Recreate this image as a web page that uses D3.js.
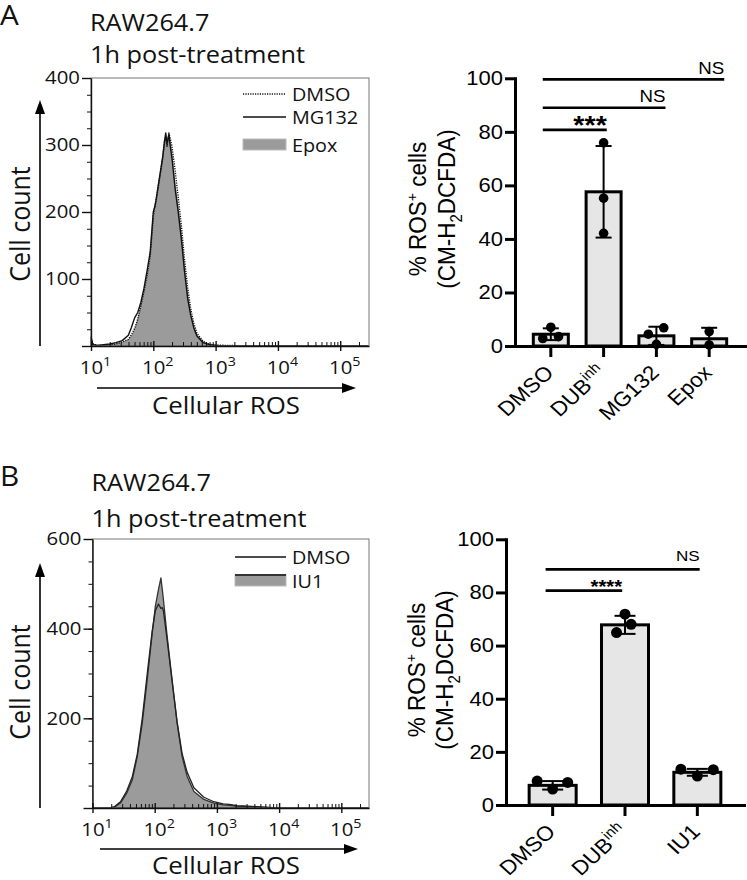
<!DOCTYPE html>
<html><head><meta charset="utf-8">
<script src="https://cdn.jsdelivr.net/npm/d3@7"></script>
<style>body{margin:0;background:#fff}svg{display:block}</style>
</head><body>
<svg id="c" width="747" height="880"></svg>
<script>
// ---------------- DATA ----------------
// Histogram A (x as log10 of fluorescence, y as cell count)
const histA_logX  = [1.0,1.03,1.1,1.2,1.3,1.4,1.5,1.6,1.65,1.7,1.75,1.8,1.85,1.9,1.95,2.0,2.03,2.05,2.1,2.15,2.18,2.2,2.22,2.25,2.27,2.3,2.35,2.4,2.45,2.5,2.55,2.6,2.65,2.7,2.8,2.9,3.0,3.2,3.5,4.0,5.0,5.45];
const histA_Epox  = [12,3,1,1,2,3,5,9,15,24,38,57,78,100,128,185,205,215,245,275,300,312,300,317,305,285,240,205,165,115,75,48,28,16,6,2,1,0.5,0,0,0,0];
const histA_DMSO  = [10,3,1,1,2,3,6,10,17,26,40,60,82,106,135,195,212,220,250,280,305,310,298,318,310,298,262,222,180,130,88,56,34,19,7,2.5,1.5,0.8,0.3,0,0,0];
const histA_MG132 = [14,2,1,2,3,5,8,16,28,42,50,65,86,112,140,200,210,222,252,282,306,318,302,316,300,280,235,200,160,112,72,46,27,15,5,2,1,0.3,0,0,0,0];
const histA_yTicks = [0,100,200,300,400];

// Histogram B
const histB_logX = [1.0,1.1,1.2,1.3,1.35,1.45,1.55,1.64,1.72,1.8,1.88,1.96,2.01,2.06,2.08,2.1,2.12,2.14,2.2,2.28,2.36,2.44,2.52,2.63,2.79,2.95,3.1,3.2,3.32,3.5,3.64,3.85,3.96,4.2,5.0,5.44];
const histB_IU1  = [0,0,0,0.5,2,11,33,63,115,190,286,390,450,487,500,513,490,465,383,286,190,115,71,37,19,11,7,6,4,3,2,1,0,0,0,0];
const histB_DMSO = [0,0,0,1,3,14,38,70,120,200,300,395,440,455,450,445,447,440,375,282,192,122,80,45,24,14,9,8,5,4,3,1.5,0.5,0,0,0];
const histB_yTicks = [0,200,400,600];

const decadeTicks = [10,100,1000,10000,100000];

// Bar chart A
const barA_categories = ["DMSO","DUBinh","MG132","Epox"];
const barA_means  = [4.4, 57.6, 3.8, 2.7];
const barA_sd     = [2.2, 17.1, 3.4, 4.1];
const barA_points = [[7.0,2.8,3.5],[75.9,55.2,42.1],[4.4,6.8,0.6],[5.4,0.4]];
const barA_jitter = [[0,-0.23,0.22],[0,0,0],[-0.23,0.21,0],[0,0]];
const barA_sig = [
  {from:"DMSO", to:"Epox",   y:99.6, label:"NS"},
  {from:"DMSO", to:"MG132",  y:89.0, label:"NS"},
  {from:"DMSO", to:"DUBinh", y:80.7, label:"***"}
];

// Bar chart B
const barB_categories = ["DMSO","DUBinh","IU1"];
const barB_means  = [7.4, 67.8, 12.3];
const barB_sd     = [1.6, 3.4, 1.3];
const barB_points = [[9.0,6.0,8.5],[71.8,68.0,64.9],[13.5,10.9,13.3]];
const barB_jitter = [[-0.33,0,0.32],[0,0.13,-0.18],[-0.35,0,0.34]];
const barB_sig = [
  {from:"DMSO", to:"IU1",    y:88.7, label:"NS"},
  {from:"DMSO", to:"DUBinh", y:80.7, label:"****"}
];
const barYTicks = [0,20,40,60,80,100];

// ---------------- DRAWING ----------------
const svg = d3.select('#c');
const HFONT = '"Open Sans", Lato, sans-serif';
const BFONT = '"Liberation Sans", Arial, Helvetica, sans-serif';
const SX = 1.1; // lettering in the figure is slightly wider than tall

function txt(g, ax, ay, rot) {
  return g.append('text').attr('transform', `translate(${ax},${ay}) scale(${SX},1)` + (rot ? ` rotate(${rot})` : ''));
}
function stretch(sel) {
  sel.each(function () {
    const t = d3.select(this);
    const x = +t.attr('x') || 0, y = +t.attr('y') || 0;
    t.attr('x', null).attr('y', null).attr('transform', `translate(${x},${y}) scale(${SX},1)`);
  });
}

function arrow(g, x1, y1, x2, y2) {
  const L = 14, W = 5;
  const ang = Math.atan2(y2 - y1, x2 - x1);
  const bx = x2 - L * Math.cos(ang), by = y2 - L * Math.sin(ang);
  g.append('line').attr('x1', x1).attr('y1', y1).attr('x2', bx).attr('y2', by)
    .attr('stroke', '#000').attr('stroke-width', 1.6);
  const px = -Math.sin(ang) * W, py = Math.cos(ang) * W;
  g.append('path').attr('d', `M${x2},${y2}L${bx + px},${by + py}L${bx - px},${by - py}Z`).attr('fill', '#000');
}

function drawHist(cfg) {
  const g = svg.append('g');
  const x = d3.scaleLog().domain([10, Math.pow(10, cfg.xMaxLog)]).range([cfg.left, cfg.right]);
  const y = d3.scaleLinear().domain([0, cfg.yMax]).range([cfg.bottom, cfg.top]);

  cfg.series.forEach(s => {
    const pts = cfg.logX.map((lx, i) => [Math.pow(10, lx), s.values[i]]);
    if (s.fill) {
      g.append('path').datum(pts)
        .attr('d', d3.area().x(d => x(d[0])).y0(y(0)).y1(d => y(d[1])))
        .attr('fill', s.fill).attr('stroke', s.stroke || 'none').attr('stroke-width', s.width || 1)
        .attr('stroke-linejoin', 'round');
    } else {
      g.append('path').datum(pts)
        .attr('d', d3.line().x(d => x(d[0])).y(d => y(d[1])))
        .attr('fill', 'none').attr('stroke', s.stroke).attr('stroke-width', s.width)
        .attr('stroke-dasharray', s.dash || null).attr('stroke-linejoin', 'round');
    }
  });

  g.append('rect').attr('x', cfg.left).attr('y', cfg.top)
    .attr('width', cfg.right - cfg.left).attr('height', cfg.bottom - cfg.top)
    .attr('fill', 'none').attr('stroke', '#777').attr('stroke-width', 1);

  const minorY = d3.range(0, cfg.yMax + 1e-6, cfg.yMinor);
  g.append('g').attr('transform', `translate(${cfg.left},0)`)
    .call(d3.axisLeft(y).tickValues(minorY).tickSize(4).tickFormat(''))
    .call(a => a.select('.domain').remove())
    .call(a => a.selectAll('.tick line').attr('stroke', '#111').attr('stroke-width', 1));
  const ya = g.append('g').attr('transform', `translate(${cfg.left},0)`)
    .call(d3.axisLeft(y).tickValues(cfg.yTicks).tickSize(9).tickSizeOuter(0).tickPadding(2)
      .tickFormat(d => d === 0 ? '' : d));
  ya.select('.domain').attr('stroke', '#111').attr('stroke-width', 1.4);
  ya.selectAll('.tick line').attr('stroke', '#111').attr('stroke-width', 1.4);
  ya.selectAll('.tick text').style('font-family', HFONT).style('font-size', '18.5px').attr('fill', '#111');
  stretch(ya.selectAll('.tick text'));

  const minorX = [];
  for (let e = 1; e <= 5; e++) for (let k = 2; k <= 9; k++) {
    const v = k * Math.pow(10, e);
    if (v < Math.pow(10, cfg.xMaxLog)) minorX.push(v);
  }
  g.append('g').attr('transform', `translate(0,${cfg.bottom})`)
    .call(d3.axisTop(x).tickValues(minorX).tickSize(4).tickFormat(''))
    .call(a => a.select('.domain').remove())
    .call(a => a.selectAll('.tick line').attr('stroke', '#111').attr('stroke-width', 1));
  g.append('g').attr('transform', `translate(0,${cfg.bottom})`)
    .call(d3.axisTop(x).tickValues(decadeTicks).tickSize(5).tickFormat(''))
    .call(a => a.select('.domain').remove())
    .call(a => a.selectAll('.tick line').attr('stroke', '#111').attr('stroke-width', 1.4));
  const xa = g.append('g').attr('transform', `translate(0,${cfg.bottom})`)
    .call(d3.axisBottom(x).tickValues(decadeTicks).tickSize(5).tickSizeOuter(0).tickFormat(''));
  xa.select('.domain').attr('stroke', '#111').attr('stroke-width', 1.4);
  xa.selectAll('.tick line').attr('stroke', '#111').attr('stroke-width', 1.4);
  xa.selectAll('.tick').each(function (d) {
    const t = txt(d3.select(this), 4, 28).attr('text-anchor', 'middle').attr('fill', '#111')
      .style('font-family', HFONT).style('font-size', '18.5px');
    t.append('tspan').text('10');
    t.append('tspan').attr('dy', -8).style('font-size', '13px').text(Math.round(Math.log10(d)));
  });

  arrow(g, cfg.arrowYx, cfg.bottom, cfg.arrowYx, cfg.arrowYtip);
  arrow(g, cfg.arrowXstart, cfg.arrowXy, cfg.arrowXtip, cfg.arrowXy);
  txt(g, cfg.yTitleX, cfg.yTitleY, -90)
    .attr('text-anchor', 'middle').style('font-family', HFONT).style('font-size', '25px').attr('fill', '#111')
    .text('Cell count');
  txt(g, cfg.xTitleX, cfg.xTitleY)
    .attr('text-anchor', 'middle').style('font-family', HFONT).style('font-size', '23.5px').attr('fill', '#111')
    .text('Cellular ROS');

  txt(g, 0, cfg.letterY).style('font-family', HFONT).style('font-size', '27px')
    .attr('fill', '#111').text(cfg.letter);
  cfg.titles.forEach((t, i) => txt(g, cfg.left - 1, cfg.titleY[i])
    .style('font-family', HFONT).style('font-size', '23px').attr('fill', '#111').text(t));

  cfg.legend.forEach(it => {
    if (it.type === 'fill') {
      g.append('rect').attr('x', cfg.legX0).attr('y', it.y - 6).attr('width', cfg.legX1 - cfg.legX0).attr('height', 11)
        .attr('fill', '#9b9b9b').attr('stroke', it.edge || '#bbb').attr('stroke-width', 1);
      if (it.topEdge) g.append('line').attr('x1', cfg.legX0).attr('x2', cfg.legX1).attr('y1', it.y - 6).attr('y2', it.y - 6)
        .attr('stroke', '#333').attr('stroke-width', 2);
    } else {
      g.append('line').attr('x1', cfg.legX0).attr('x2', cfg.legX1).attr('y1', it.y).attr('y2', it.y)
        .attr('stroke', '#111').attr('stroke-width', 1.4).attr('stroke-dasharray', it.type === 'dotted' ? '1.2,1.2' : null);
    }
    txt(g, cfg.legTextX, it.y + 7).style('font-family', HFONT).style('font-size', '18px')
      .attr('fill', '#111').text(it.label);
  });
}

function drawBar(cfg) {
  const g = svg.append('g');
  const x = d3.scaleBand().domain(cfg.categories).range([cfg.left, cfg.right])
    .paddingInner(cfg.pi).paddingOuter(cfg.po);
  const y = d3.scaleLinear().domain([0, 100]).range([cfg.bottom, cfg.top]);
  const bw = x.bandwidth();
  const rows = cfg.categories.map((c, i) => ({c, m: cfg.means[i], sd: cfg.sd[i], pts: cfg.points[i], jit: cfg.jitter[i]}));

  g.selectAll('rect.bar').data(rows).join('rect').attr('class', 'bar')
    .attr('x', d => x(d.c)).attr('y', d => y(d.m)).attr('width', bw).attr('height', d => y(0) - y(d.m))
    .attr('fill', '#e6e6e6').attr('stroke', '#000').attr('stroke-width', 3);

  rows.forEach(d => {
    const cx = x(d.c) + bw / 2;
    const hi = y(d.m + d.sd), lo = y(Math.max(0, d.m - d.sd));
    g.append('line').attr('x1', cx).attr('x2', cx).attr('y1', hi).attr('y2', lo).attr('stroke', '#000').attr('stroke-width', 2);
    g.append('line').attr('x1', cx - cfg.cap).attr('x2', cx + cfg.cap).attr('y1', hi).attr('y2', hi).attr('stroke', '#000').attr('stroke-width', 2);
    if (d.m - d.sd > 0) g.append('line').attr('x1', cx - cfg.cap).attr('x2', cx + cfg.cap).attr('y1', lo).attr('y2', lo).attr('stroke', '#000').attr('stroke-width', 2);
  });
  rows.forEach(d => {
    d.pts.forEach((v, j) => {
      g.append('circle').attr('cx', x(d.c) + bw / 2 + d.jit[j] * bw).attr('cy', y(v)).attr('r', cfg.r).attr('fill', '#000');
    });
  });

  const ya = g.append('g').attr('transform', `translate(${cfg.left},0)`)
    .call(d3.axisLeft(y).tickValues(barYTicks).tickSize(10).tickSizeOuter(0).tickPadding(2));
  ya.select('.domain').attr('stroke', '#000').attr('stroke-width', 3).attr('stroke-linecap', 'square');
  ya.selectAll('.tick line').attr('stroke', '#000').attr('stroke-width', 3);
  ya.selectAll('.tick text').style('font-family', BFONT).style('font-size', '20px').attr('fill', '#000');
  stretch(ya.selectAll('.tick text'));

  const xa = g.append('g').attr('transform', `translate(0,${cfg.bottom})`)
    .call(d3.axisBottom(x).tickSize(11).tickSizeOuter(0).tickFormat(''));
  xa.select('.domain').attr('stroke', '#000').attr('stroke-width', 3).attr('stroke-linecap', 'square');
  xa.selectAll('.tick line').attr('stroke', '#000').attr('stroke-width', 3);
  xa.selectAll('.tick').each(function (d) {
    const t = txt(d3.select(this), 4, 28, -45).attr('text-anchor', 'end').attr('fill', '#000')
      .style('font-family', BFONT).style('font-size', '20.5px');
    if (d === 'DUBinh') {
      t.append('tspan').text('DUB');
      t.append('tspan').attr('dy', -8).style('font-size', '14px').text('inh');
    } else t.text(d);
  });

  const t1 = txt(g, cfg.ylabX[0], cfg.ylabY, -90)
    .attr('text-anchor', 'middle').style('font-family', BFONT).style('font-size', '22.5px').attr('fill', '#000');
  t1.append('tspan').text('% ROS');
  t1.append('tspan').attr('dy', -8).style('font-size', '14px').text('+');
  t1.append('tspan').attr('dy', 8).text(' cells');
  const t2 = txt(g, cfg.ylabX[1], cfg.ylabY, -90)
    .attr('text-anchor', 'middle').style('font-family', BFONT).style('font-size', '22.5px').attr('fill', '#000');
  t2.append('tspan').text('(CM-H');
  t2.append('tspan').attr('dy', 6).style('font-size', '15px').text('2');
  t2.append('tspan').attr('dy', -6).text('DCFDA)');

  cfg.sig.forEach((s, i) => {
    const x1 = x(s.from) + bw * cfg.sigStart;
    const x2 = x(s.to) + bw * cfg.sigEnd[i];
    g.append('line').attr('x1', x1).attr('x2', x2).attr('y1', y(s.y)).attr('y2', y(s.y))
      .attr('stroke', '#000').attr('stroke-width', 2.7);
    const star = s.label.startsWith('*');
    txt(g, x2, y(s.y) + (star ? cfg.starDy : -cfg.nsGap))
      .attr('text-anchor', 'end').style('font-family', BFONT)
      .style('font-weight', star ? 'bold' : 'normal')
      .style('font-size', (star ? cfg.starSize : cfg.nsSize) + 'px').attr('fill', '#000').text(s.label);
  });
}

// ---- Panel A ----
drawHist({
  left: 91, right: 369, top: 78, bottom: 346, xMaxLog: 5.462, yMax: 400, yMinor: 25,
  yTicks: histA_yTicks, logX: histA_logX,
  series: [
    {values: histA_Epox, fill: '#9b9b9b', stroke: '#8a8a8a', width: 1},
    {values: histA_MG132, stroke: '#111', width: 1.4},
    {values: histA_DMSO, stroke: '#111', width: 1.4, dash: '1.2,1.2'}
  ],
  arrowYx: 40, arrowYtip: 100, arrowXstart: 97, arrowXtip: 356, arrowXy: 388,
  yTitleX: 30, yTitleY: 224, xTitleX: 226, xTitleY: 414,
  letter: 'A', letterY: 25, titles: ['RAW264.7', '1h post-treatment'], titleY: [31, 63],
  legX0: 243, legX1: 286, legTextX: 292,
  legend: [
    {label: 'DMSO', type: 'dotted', y: 94},
    {label: 'MG132', type: 'solid', y: 117},
    {label: 'Epox', type: 'fill', y: 145}
  ]
});
drawBar({
  categories: barA_categories, means: barA_means, sd: barA_sd, points: barA_points, jitter: barA_jitter,
  sig: barA_sig, sigStart: 0.27, sigEnd: [0.93, 0.76, 0.59],
  left: 515, right: 745, top: 78.3, bottom: 346, pi: 0.337, po: 0.347,
  cap: 8, r: 4.8, ylabX: [426, 455], ylabY: 209,
  nsGap: 5.5, nsSize: 17, starSize: 26, starDy: 4
});

// ---- Panel B ----
drawHist({
  left: 92.5, right: 369, top: 539, bottom: 808, xMaxLog: 5.445, yMax: 600, yMinor: 50,
  yTicks: histB_yTicks, logX: histB_logX,
  series: [
    {values: histB_IU1, fill: '#9b9b9b', stroke: '#333', width: 1.3},
    {values: histB_DMSO, stroke: '#222', width: 1.3}
  ],
  arrowYx: 40, arrowYtip: 563, arrowXstart: 100, arrowXtip: 358, arrowXy: 849,
  yTitleX: 30, yTitleY: 682, xTitleX: 226, xTitleY: 873.5,
  letter: 'B', letterY: 486, titles: ['RAW264.7', '1h post-treatment'], titleY: [491, 527],
  legX0: 235, legX1: 286, legTextX: 292,
  legend: [
    {label: 'DMSO', type: 'solid', y: 557},
    {label: 'IU1', type: 'fill', y: 581, topEdge: true}
  ]
});
drawBar({
  categories: barB_categories, means: barB_means, sd: barB_sd, points: barB_points, jitter: barB_jitter,
  sig: barB_sig, sigStart: 0.35, sigEnd: [0.55, 0.44],
  left: 506, right: 744, top: 539.3, bottom: 805, pi: 0.35, po: 0.32,
  cap: 10.5, r: 5.5, ylabX: [425, 453], ylabY: 670,
  nsGap: 8, nsSize: 15.5, starSize: 18.5, starDy: 2
});
</script>
</body></html>
